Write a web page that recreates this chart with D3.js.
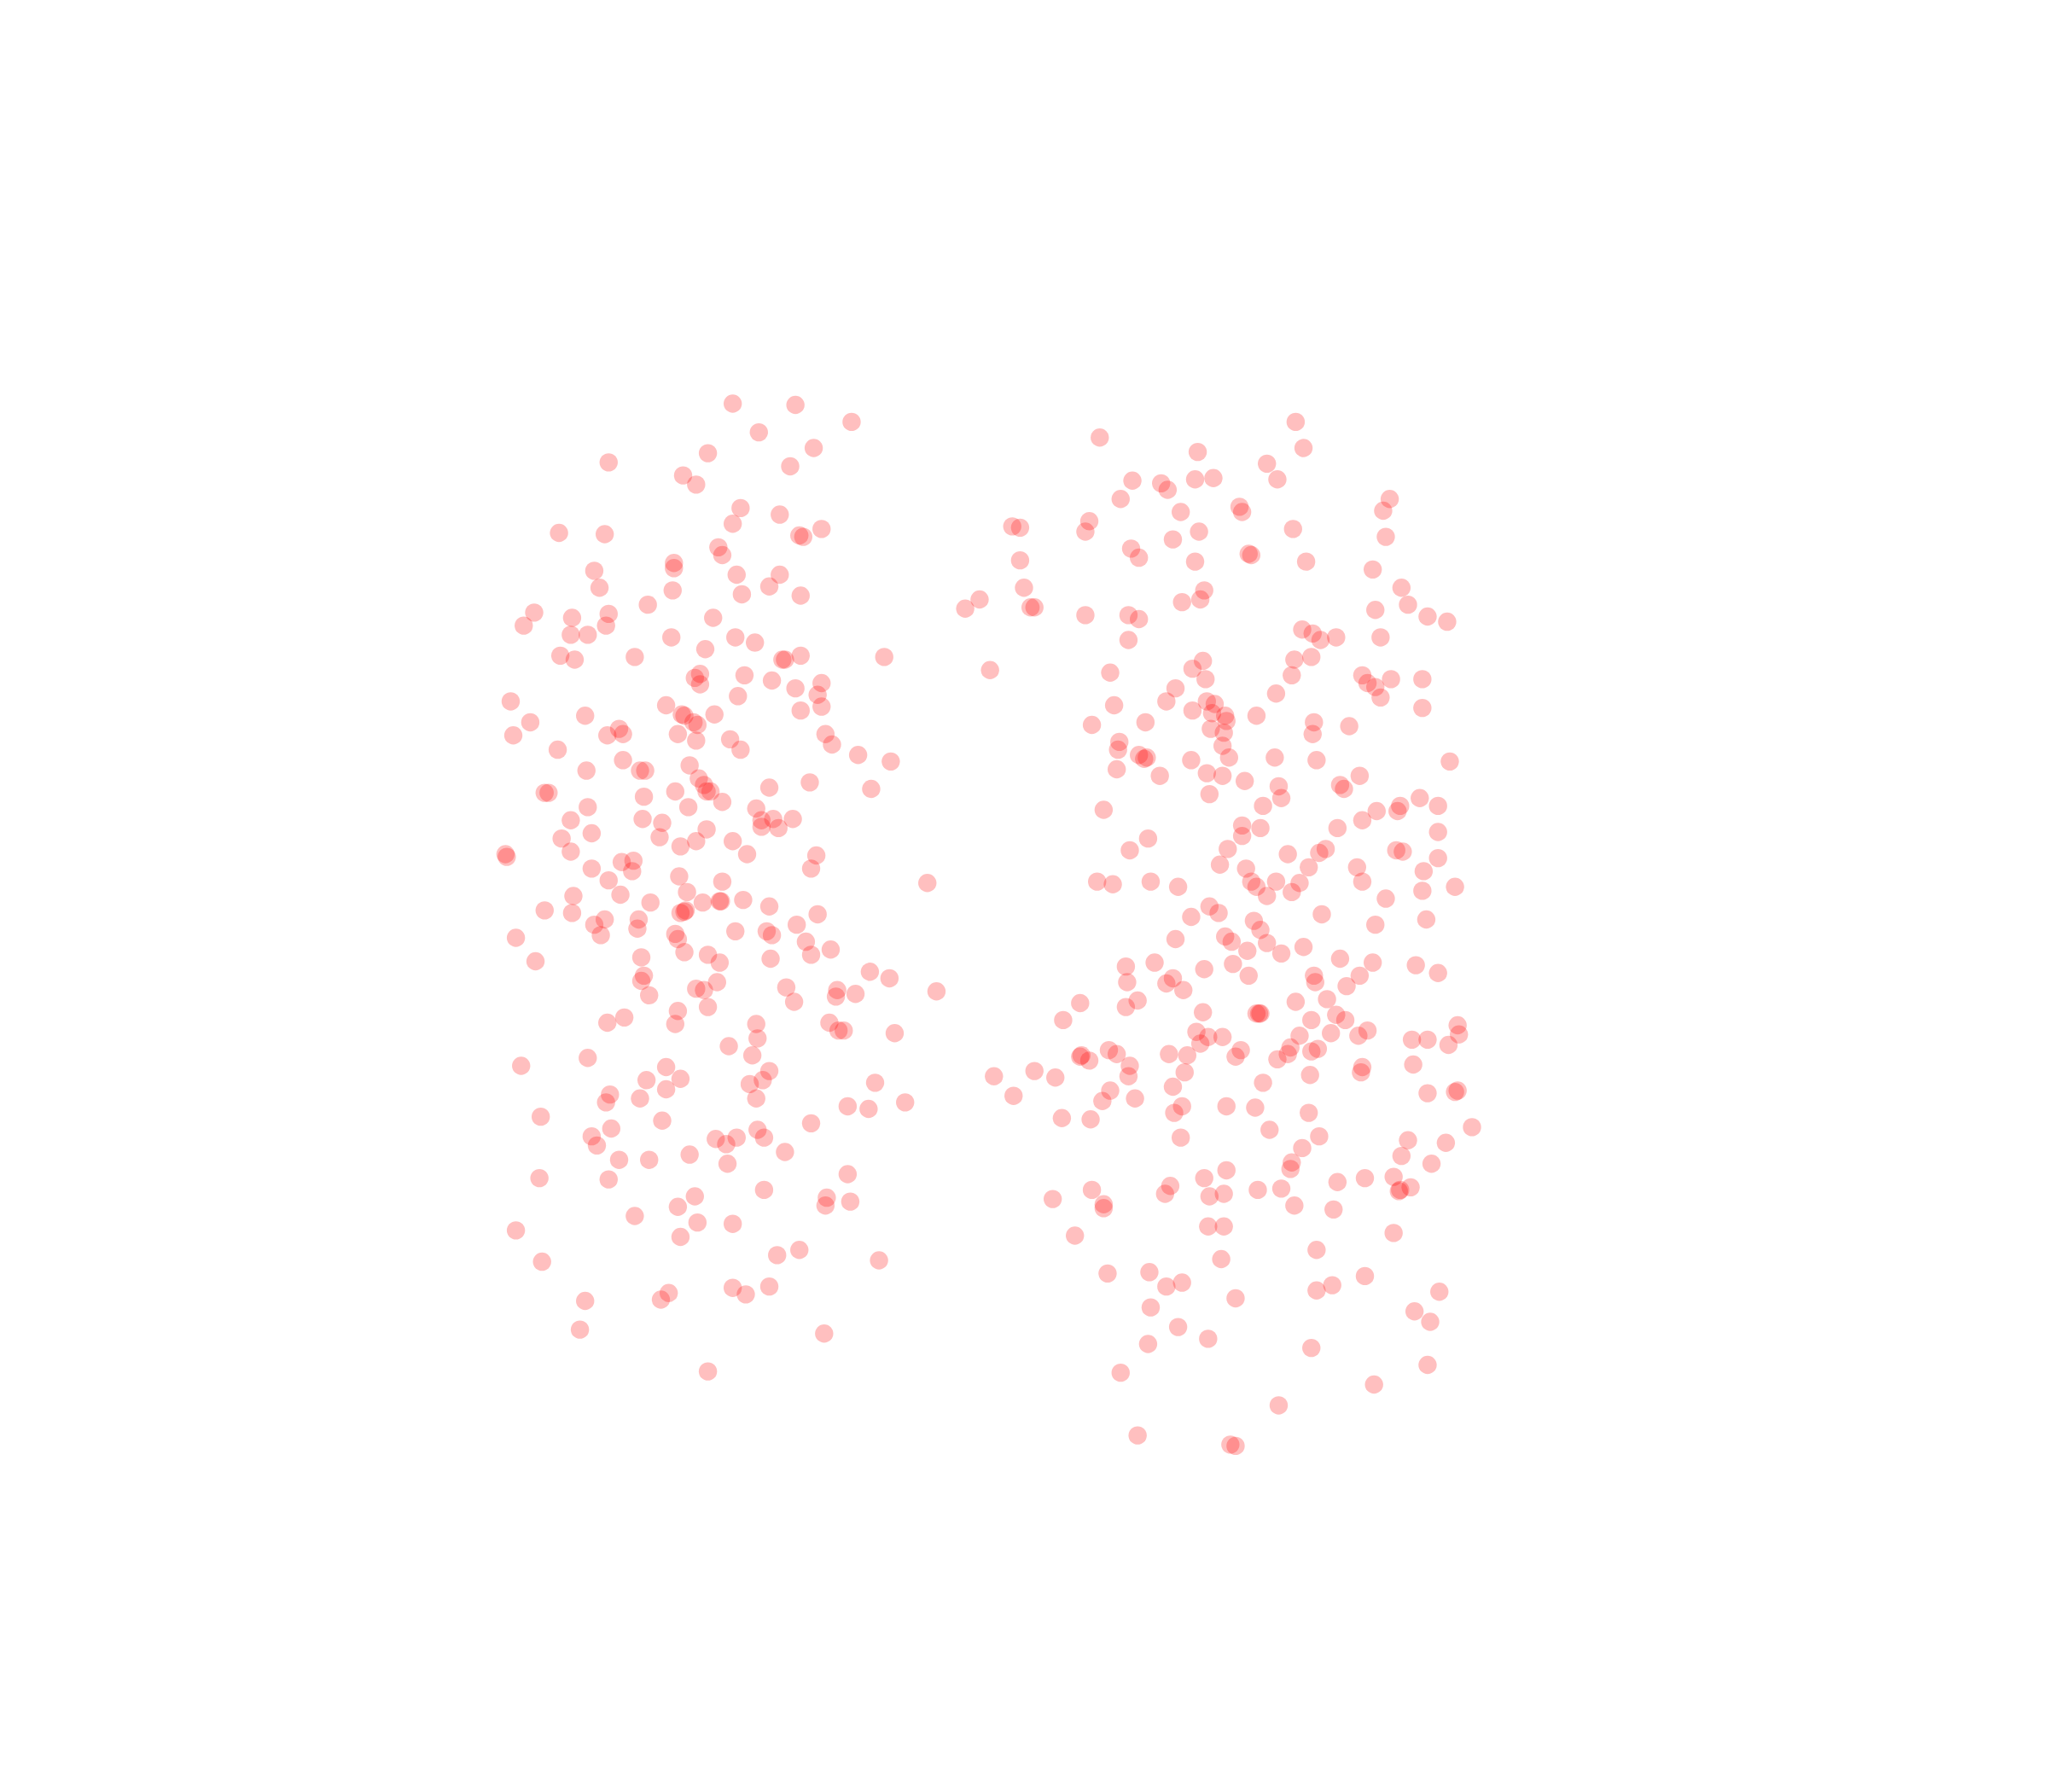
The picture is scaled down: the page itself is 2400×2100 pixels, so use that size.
<!DOCTYPE html>
<html><head><meta charset="utf-8"><style>html,body{margin:0;background:#fff}svg{display:block}</style>
<script src="https://cdn.jsdelivr.net/npm/d3@7"></script></head><body><script>
const leftPoints=[[561,309],[609,310],[652,323],[581,331],[623,343],[542,347],[466,354],[605,357],[523,364],[533,371],[567,389],[597,394],[561,401],[629,405],[612,410],[615,411],[428,408],[463,409],[550,419],[553,425],[516,431],[516,435],[455,437],[564,440],[597,440],[459,450],[515,452],[589,449],[568,455],[613,456],[496,463],[409,469],[466,470],[438,473],[546,473],[401,479],[464,479],[437,486],[450,486],[514,488],[563,488],[578,492],[540,497],[429,502],[440,505],[486,503],[599,505],[601,505],[613,502],[677,503],[536,516],[532,519],[570,517],[536,524],[591,521],[629,523],[609,527],[626,532],[565,533],[510,540],[629,541],[391,537],[613,544],[522,547],[524,548],[547,547],[448,548],[406,553],[531,553],[534,555],[474,558],[393,563],[465,563],[477,562],[519,562],[533,567],[559,566],[632,562],[637,570],[567,574],[427,574],[657,578],[682,583],[477,582],[528,586],[449,590],[490,590],[494,590],[535,596],[539,601],[620,599],[589,603],[667,604],[544,606],[541,606],[417,607],[420,607],[493,610],[517,606],[553,614],[450,618],[527,618],[579,619],[492,627],[437,628],[507,630],[592,627],[607,627],[583,628],[583,633],[596,634],[541,635],[453,638],[430,642],[505,641],[561,644],[533,644],[521,648],[437,652],[572,654],[387,654],[388,656],[625,655],[476,660],[485,659],[621,665],[453,665],[484,667],[520,671],[466,674],[553,675],[710,676],[526,683],[475,685],[439,686],[498,691],[538,691],[551,690],[552,690],[569,689],[589,694],[417,697],[438,699],[525,697],[521,699],[524,698],[626,700],[489,704],[463,704],[455,708],[610,708],[488,711],[460,716],[587,713],[591,716],[563,713],[517,715],[519,719],[395,718],[617,721],[636,727],[524,729],[621,731],[542,731],[491,733],[551,737],[590,734],[410,736],[666,744],[493,747],[491,751],[549,752],[681,749],[533,757],[539,758],[602,756],[641,758],[655,761],[640,763],[717,759],[497,762],[608,767],[542,771],[519,774],[478,779],[465,783],[517,784],[579,784],[635,783],[642,789],[646,789],[685,791],[580,795],[558,801],[576,808],[450,810],[399,816],[510,817],[589,820],[495,827],[521,826],[584,827],[574,830],[670,829],[510,834],[467,838],[490,841],[464,844],[579,841],[649,847],[693,844],[665,849],[414,855],[507,858],[621,860],[468,864],[580,865],[453,870],[548,872],[564,871],[585,871],[556,876],[457,877],[601,882],[528,884],[474,888],[497,888],[557,891],[413,902],[466,903],[649,899],[585,911],[532,916],[633,917],[632,923],[651,920],[519,924],[486,931],[534,936],[561,937],[395,942],[521,947],[612,957],[595,961],[415,966],[673,965],[561,986],[589,985],[571,991],[512,990],[506,995],[448,996],[444,1018],[631,1021],[542,1050]];
const rightPoints=[[992,323],[842,335],[998,343],[917,346],[970,355],[867,368],[915,367],[929,366],[889,370],[894,375],[978,367],[858,382],[1064,382],[904,392],[949,388],[951,392],[1059,391],[834,399],[775,403],[781,404],[831,407],[990,405],[918,407],[1061,411],[898,413],[866,420],[872,427],[956,424],[958,425],[781,429],[915,430],[1000,430],[1051,436],[784,450],[922,452],[1073,450],[750,459],[905,461],[919,459],[1078,463],[739,466],[789,465],[792,465],[1053,467],[831,471],[864,471],[872,474],[1093,472],[1108,476],[997,482],[1005,485],[1011,490],[1023,488],[864,490],[1057,488],[991,505],[1004,503],[921,506],[758,513],[850,515],[913,512],[989,517],[923,520],[1043,517],[1047,523],[1065,520],[1089,520],[1053,526],[900,527],[977,531],[1057,534],[893,537],[853,540],[924,537],[930,539],[1089,542],[913,544],[928,546],[938,548],[962,548],[939,552],[1006,553],[877,553],[836,555],[1033,556],[927,558],[937,561],[1005,562],[857,568],[856,574],[936,571],[941,580],[872,578],[878,580],[876,581],[976,580],[912,582],[1008,582],[1110,583],[855,589],[888,594],[924,592],[936,594],[1041,594],[953,598],[1026,601],[1029,604],[979,602],[926,608],[981,611],[1087,611],[1101,617],[1072,617],[1070,621],[967,617],[1054,621],[845,620],[1043,628],[951,632],[965,634],[1024,634],[1101,637],[951,640],[879,642],[865,651],[940,650],[1069,651],[1074,652],[986,654],[1015,650],[1010,653],[1101,657],[934,662],[1039,664],[1090,667],[954,665],[1002,664],[840,675],[852,677],[881,675],[902,679],[958,675],[962,679],[977,675],[995,676],[1043,675],[1114,679],[1089,682],[989,683],[970,686],[1061,688],[926,694],[933,699],[912,702],[1012,700],[960,705],[1053,708],[1092,704],[965,712],[938,717],[943,721],[900,719],[970,722],[955,728],[981,730],[998,725],[1026,734],[884,737],[862,740],[944,738],[1051,737],[1084,739],[922,742],[1041,747],[1101,745],[898,749],[956,747],[1006,747],[1007,752],[863,752],[893,753],[906,758],[1031,755],[827,768],[871,766],[862,771],[992,767],[1016,765],[921,775],[962,776],[965,776],[964,776],[1023,777],[1030,781],[814,781],[1004,781],[1047,789],[916,790],[925,794],[936,794],[995,793],[1019,791],[1040,793],[1116,785],[1117,792],[1081,796],[1093,796],[1109,800],[919,799],[849,804],[855,807],[828,808],[827,809],[834,812],[895,807],[909,808],[950,804],[946,809],[988,802],[986,807],[1004,805],[1009,803],[978,811],[865,816],[792,820],[1082,815],[1043,817],[1042,821],[761,824],[808,825],[864,824],[907,821],[1003,823],[967,829],[898,832],[850,835],[1116,835],[1114,836],[1093,837],[776,839],[844,843],[869,841],[939,847],[961,848],[905,847],[899,852],[1002,852],[813,856],[835,857],[972,865],[1127,863],[904,871],[1010,870],[1078,873],[1107,875],[997,879],[1073,885],[1096,891],[989,890],[988,895],[939,896],[922,902],[1024,905],[1045,902],[1067,901],[896,908],[963,911],[981,910],[892,914],[926,916],[937,914],[836,911],[1072,911],[1071,912],[1080,909],[806,918],[845,922],[845,925],[991,923],[1021,926],[925,939],[937,939],[1067,944],[823,946],[1008,957],[935,964],[848,975],[880,974],[1045,977],[893,985],[905,982],[1020,984],[1008,988],[946,994],[881,1001],[1102,989],[1083,1004],[1095,1012],[902,1016],[925,1025],[879,1029],[1004,1032],[1093,1045],[858,1051],[1052,1060],[979,1076],[871,1099],[942,1106],[946,1107]];
const W=2400,H=2100;
const x=d3.scaleLinear().domain([0,1568]).range([0,W]);
const y=d3.scaleLinear().domain([0,1372]).range([0,H]);
const svg=d3.select("body").append("svg").attr("width",W).attr("height",H);
svg.selectAll("circle").data(leftPoints.concat(rightPoints)).join("circle")
 .attr("cx",d=>x(d[0])).attr("cy",d=>y(d[1])).attr("r",10.7)
 .attr("fill","#ff0000").attr("fill-opacity",0.25);
</script></body></html>
